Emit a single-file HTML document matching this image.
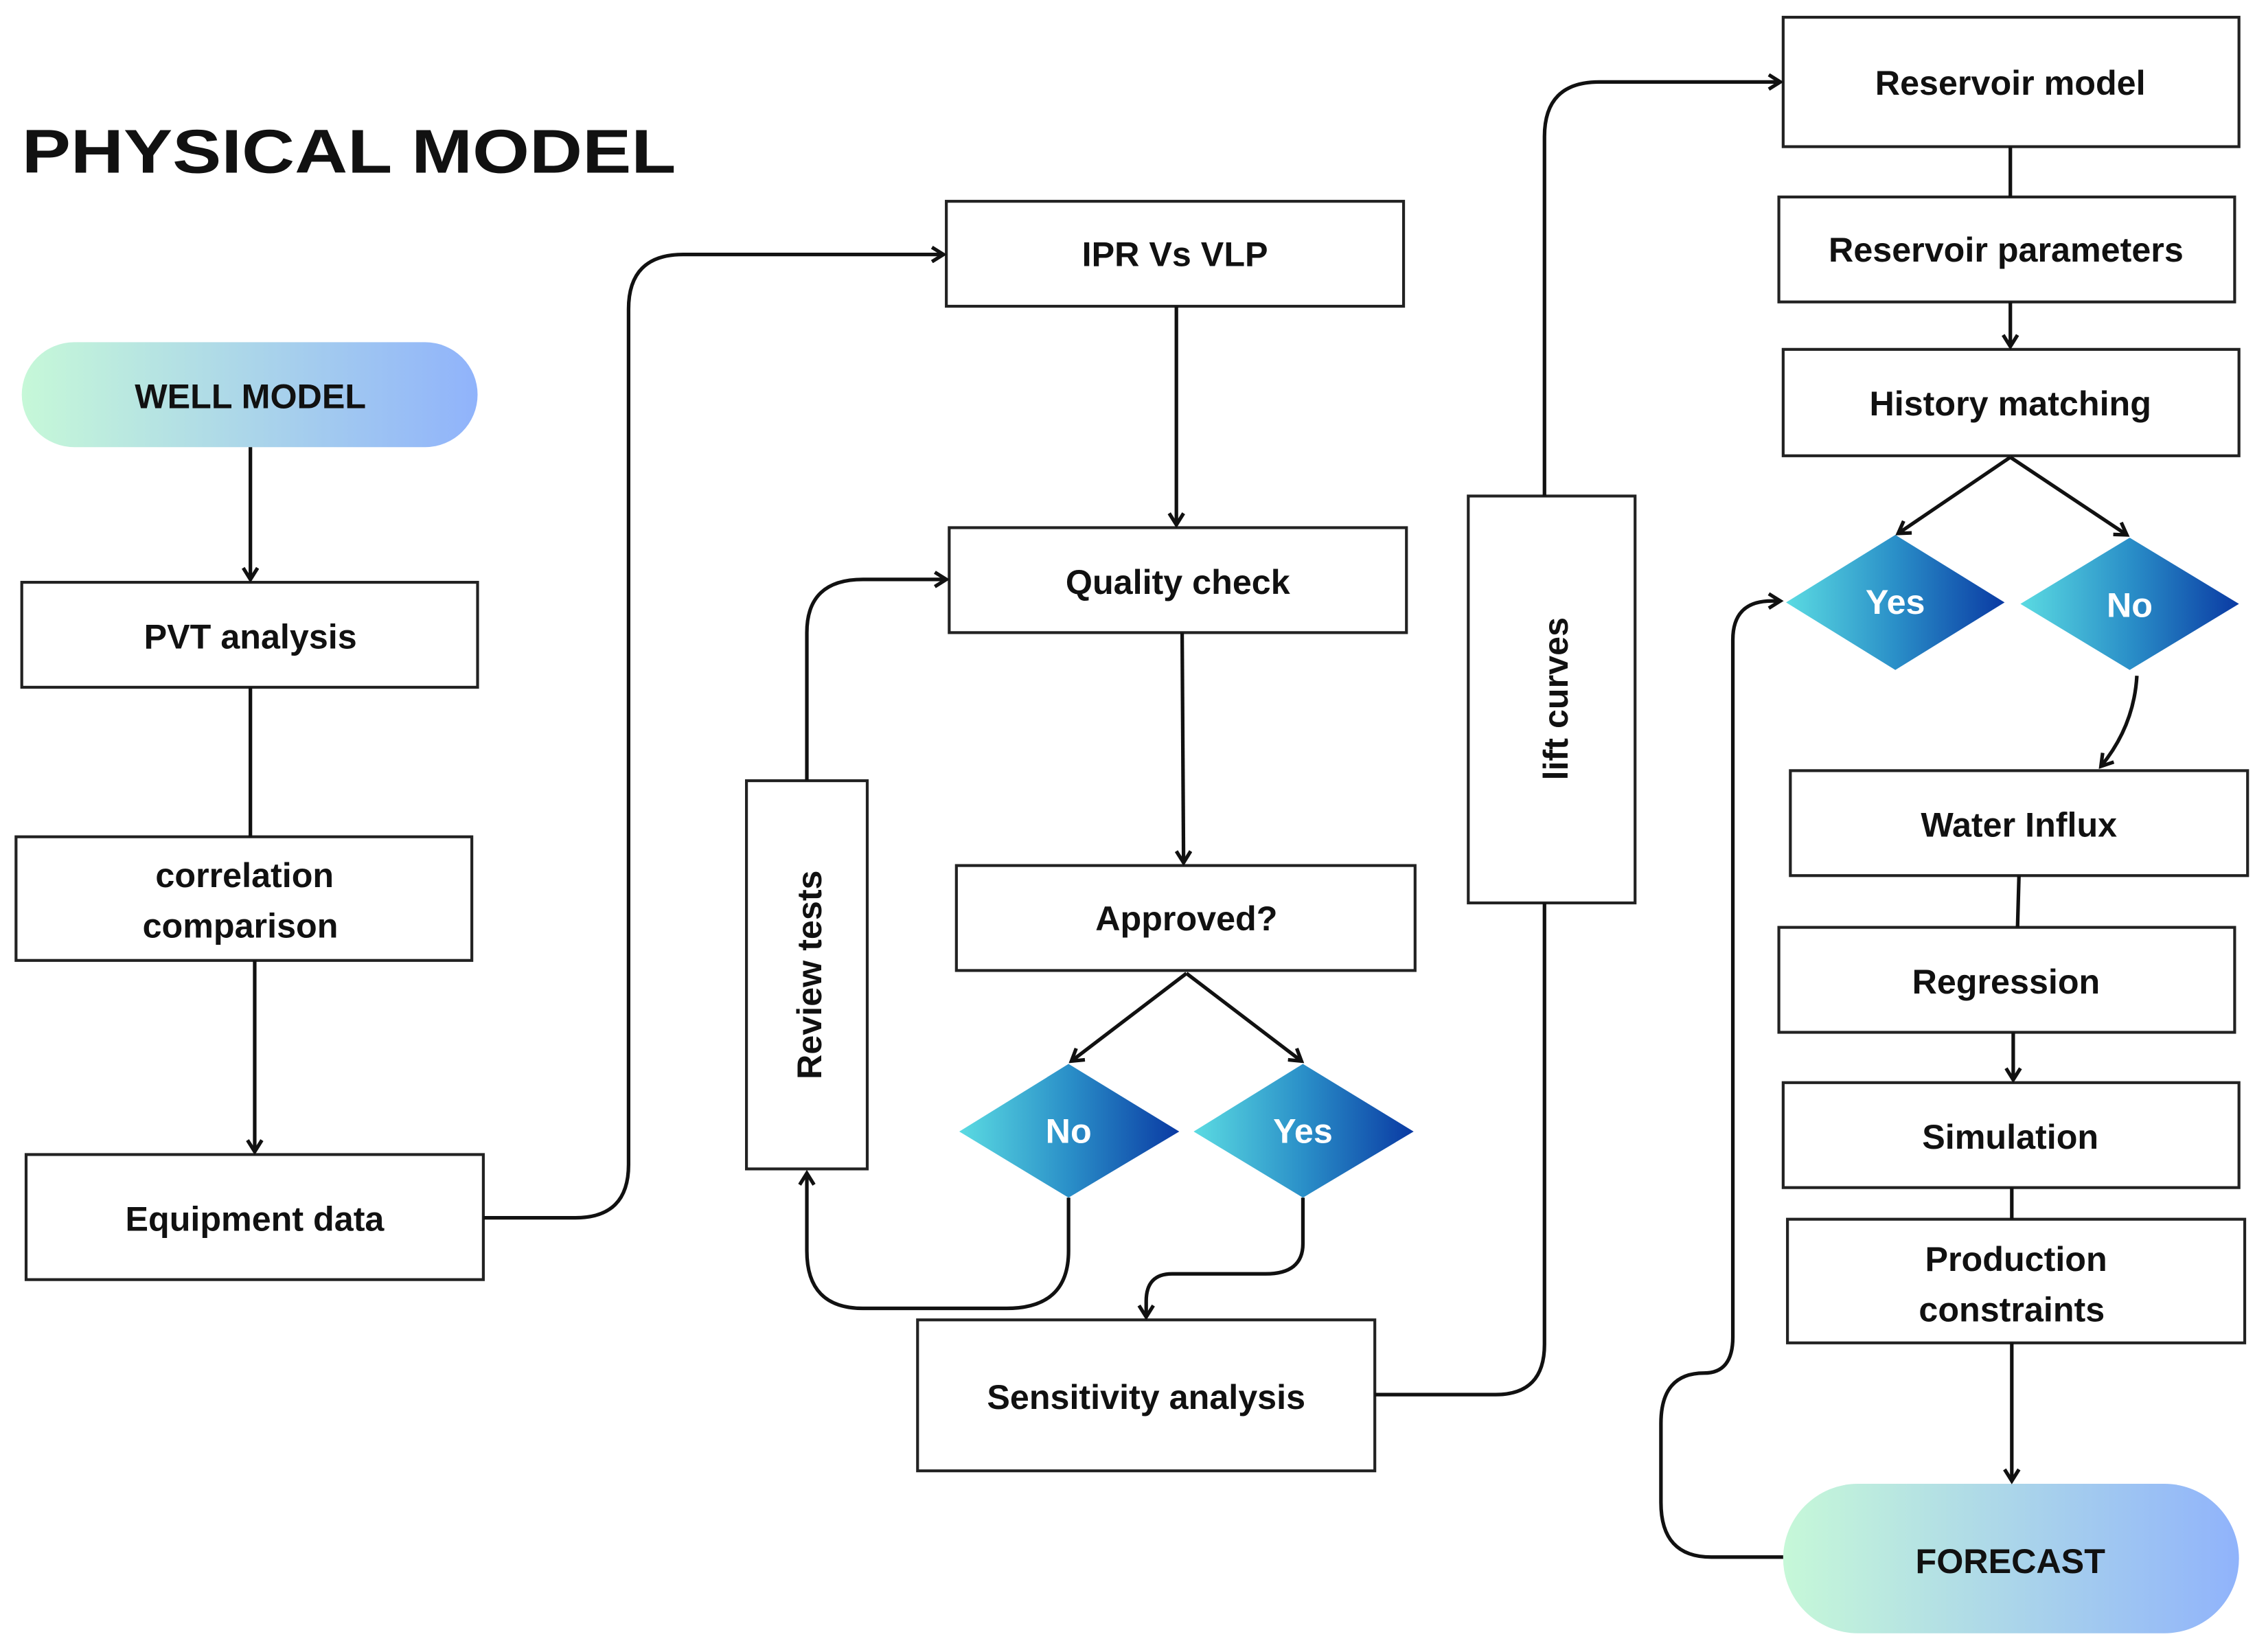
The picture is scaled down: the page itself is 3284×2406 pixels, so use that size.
<!DOCTYPE html>
<html><head><meta charset="utf-8"><style>
html,body{margin:0;padding:0;background:#fff;}
svg{display:block;}
text{font-family:"Liberation Sans",sans-serif;font-weight:bold;fill:#111;}
</style></head><body>
<svg width="3284" height="2406" viewBox="0 0 1568 1149" xmlns="http://www.w3.org/2000/svg">
<defs>
<linearGradient id="pill" x1="0" x2="1" y1="0" y2="0"><stop offset="0" stop-color="#c6f8d8"/><stop offset="1" stop-color="#90b3fb"/></linearGradient>
<linearGradient id="dia" x1="0" x2="1" y1="0" y2="0"><stop offset="0" stop-color="#5bdbe2"/><stop offset="0.5" stop-color="#2a8fc8"/><stop offset="1" stop-color="#0a3aa3"/></linearGradient>
<marker id="ah" markerWidth="12" markerHeight="12" refX="9" refY="6" orient="auto" markerUnits="userSpaceOnUse"><path d="M1,1 L9,6 L1,11" fill="none" stroke="#111" stroke-width="2.5"/></marker>
</defs>
<rect width="1568" height="1149" fill="#fff"/>
<text x="15" y="120" font-size="43" textLength="455" lengthAdjust="spacingAndGlyphs">PHYSICAL MODEL</text>

<g fill="#fff" stroke="#222" stroke-width="2">
<rect x="15" y="405" width="317" height="73"/>
<rect x="11" y="582" width="317" height="86"/>
<rect x="18" y="803" width="318" height="87"/>
<rect x="658" y="140" width="318" height="73"/>
<rect x="660" y="367" width="318" height="73"/>
<rect x="665" y="602" width="319" height="73"/>
<rect x="519" y="543" width="84" height="270"/>
<rect x="638" y="918" width="318" height="105"/>
<rect x="1021" y="345" width="116" height="283"/>
<rect x="1240" y="12" width="317" height="90"/>
<rect x="1237" y="137" width="317" height="73"/>
<rect x="1240" y="243" width="317" height="74"/>
<rect x="1245" y="536" width="318" height="73"/>
<rect x="1237" y="645" width="317" height="73"/>
<rect x="1240" y="753" width="317" height="73"/>
<rect x="1243" y="848" width="318" height="86"/>
</g>
<rect x="15" y="238" width="317" height="73" rx="36.5" fill="url(#pill)"/>
<rect x="1240" y="1032" width="317" height="104" rx="52" fill="url(#pill)"/>
<g fill="url(#dia)">
<polygon points="667,787 743,740 820,787 743,833"/>
<polygon points="830,787 906,740 983,787 906,833"/>
<polygon points="1242,419 1318,372 1394,419 1318,466"/>
<polygon points="1405,420 1481,374 1557,420 1481,466"/>
</g>

<g fill="none" stroke="#111" stroke-width="2.5">
<path d="M174,311 V403" marker-end="url(#ah)"/>
<path d="M174,478 V582"/>
<path d="M177,668 V801" marker-end="url(#ah)"/>
<path d="M336,847 H400 Q437,847 437,810 V215 Q437,177 475,177 H656" marker-end="url(#ah)"/>
<path d="M818,213 V365" marker-end="url(#ah)"/>
<path d="M822,440 L823,600" marker-end="url(#ah)"/>
<path d="M825,677 L745,738" marker-end="url(#ah)"/>
<path d="M825,677 L905,738" marker-end="url(#ah)"/>
<path d="M743,833 V870 Q743,910 700,910 H600 Q561,910 561,870 V816" marker-end="url(#ah)"/>
<path d="M561,543 V440 Q561,403 600,403 H658" marker-end="url(#ah)"/>
<path d="M906,833 V865 Q906,886 880,886 H815 Q797,886 797,905 V916" marker-end="url(#ah)"/>
<path d="M956,970 H1040 Q1074,970 1074,935 V628"/>
<path d="M1074,345 V95 Q1074,57 1112,57 H1238" marker-end="url(#ah)"/>
<path d="M1398,102 V137"/>
<path d="M1398,210 V241" marker-end="url(#ah)"/>
<path d="M1398,318 L1320,371" marker-end="url(#ah)"/>
<path d="M1398,318 L1479,372" marker-end="url(#ah)"/>
<path d="M1486,470 Q1484,505 1461,533" marker-end="url(#ah)"/>
<path d="M1404,609 L1403,645"/>
<path d="M1400,718 V751" marker-end="url(#ah)"/>
<path d="M1399,826 V848"/>
<path d="M1399,934 V1030" marker-end="url(#ah)"/>
<path d="M1240,1083 H1190 Q1155,1083 1155,1045 V990 Q1155,955 1185,955 Q1205,955 1205,930 V445 Q1205,418 1232,418 H1238" marker-end="url(#ah)"/>
</g>

<g font-size="24" text-anchor="middle">
<text x="174" y="284">WELL MODEL</text>
<text x="174" y="451">PVT analysis</text>
<text x="170" y="617">correlation</text>
<text x="167" y="652">comparison</text>
<text x="177" y="856">Equipment data</text>
<text x="817" y="185">IPR Vs VLP</text>
<text x="819" y="413">Quality check</text>
<text x="825" y="647">Approved?</text>
<text x="797" y="980">Sensitivity analysis</text>
<text x="1398" y="66">Reservoir model</text>
<text x="1395" y="182">Reservoir parameters</text>
<text x="1398" y="289">History matching</text>
<text x="1404" y="582">Water Influx</text>
<text x="1395" y="691">Regression</text>
<text x="1398" y="799">Simulation</text>
<text x="1402" y="884">Production</text>
<text x="1399" y="919">constraints</text>
<text x="1398" y="1094">FORECAST</text>
<text transform="translate(571,678) rotate(-90)">Review tests</text>
<text transform="translate(1090,486) rotate(-90)">lift curves</text>
</g>
<g font-size="24" text-anchor="middle">
<text x="743" y="795" style="fill:#fff">No</text>
<text x="906" y="795" style="fill:#fff">Yes</text>
<text x="1318" y="427" style="fill:#fff">Yes</text>
<text x="1481" y="429" style="fill:#fff">No</text>
</g>
</svg>
</body></html>
